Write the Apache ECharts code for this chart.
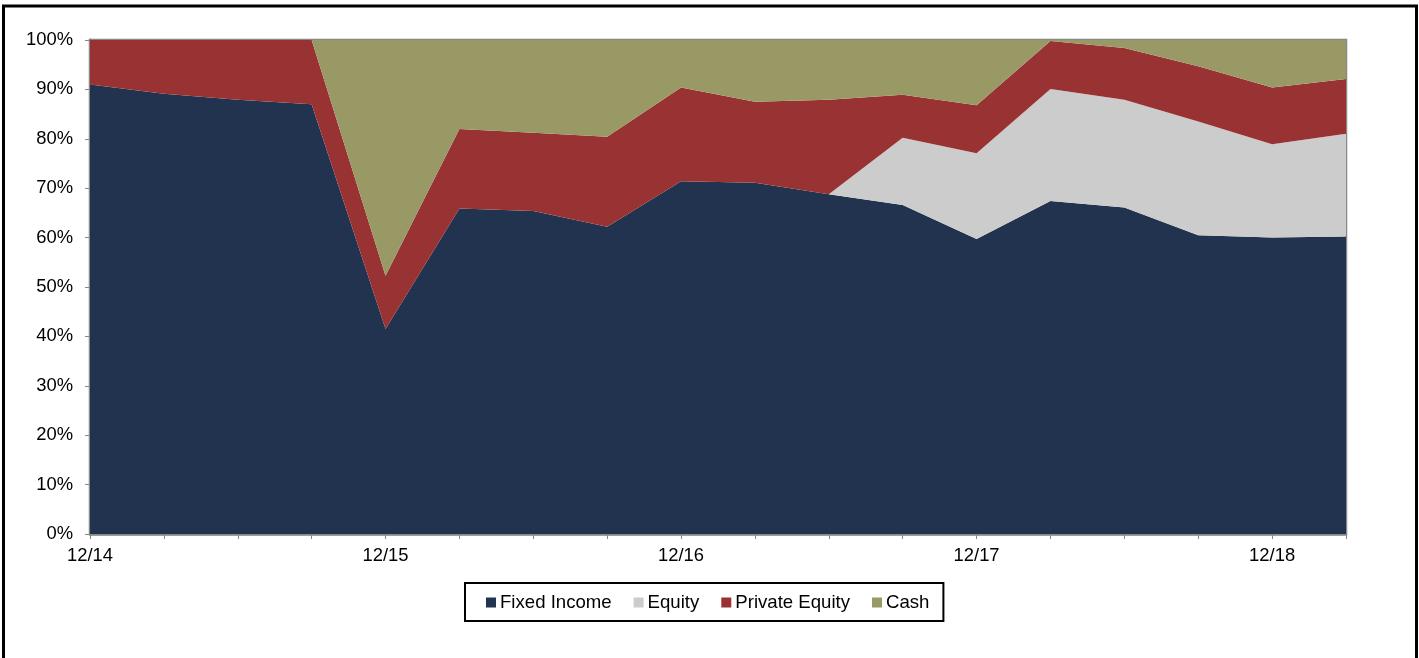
<!DOCTYPE html>
<html>
<head>
<meta charset="utf-8">
<script src="https://cdn.jsdelivr.net/npm/echarts@6/dist/echarts.min.js"></script>
<style>
html,body{margin:0;padding:0;background:#fff;}
#chart{width:1419px;height:658px;}
</style>
</head>
<body>
<div id="chart"></div>
<script>
const categories = ['12/14','3/15','6/15','9/15','12/15','3/16','6/16','9/16','12/16','3/17','6/17','9/17','12/17','3/18','6/18','9/18','12/18','3/19'];
const fixedIncome = [91.0, 89.1, 87.9, 87.0, 41.5, 65.9, 65.4, 62.2, 71.4, 71.1, 68.8, 66.6, 59.7, 67.4, 66.1, 60.5, 60.0, 60.2];
const equity =      [0, 0, 0, 0, 0, 0, 0, 0, 0, 0, 0, 13.6, 17.4, 22.7, 21.8, 23.0, 18.9, 20.8];
const privateEquity=[9.0, 10.9, 12.1, 13.0, 10.8, 16.1, 15.8, 18.2, 19.0, 16.4, 19.1, 8.7, 9.7, 9.7, 10.5, 11.2, 11.5, 11.1];
const cash =        [0, 0, 0, 0, 47.7, 18.0, 18.8, 19.6, 9.6, 12.5, 12.1, 11.1, 13.2, 0.2, 1.6, 5.3, 9.6, 7.9];
const shownLabels = ['12/14','12/15','12/16','12/17','12/18'];
const yTicks = [0,10,20,30,40,50,60,70,80,90,100];

const colors = ['#22334F', '#CCCCCC', '#993333', '#999966'];
const font = '"Liberation Sans", Arial, sans-serif';

function areaSeries(name, data, color) {
  return {
    name: name, type: 'line', stack: 'total', data: data,
    symbol: 'none', lineStyle: { width: 0 }, showSymbol: false,
    areaStyle: { color: color, opacity: 1 }, itemStyle: { color: color },
    emphasis: { disabled: true }
  };
}

const chart = echarts.init(document.getElementById('chart'));
chart.setOption({
  animation: false,
  backgroundColor: '#fff',
  color: colors,
  grid: { left: 90, top: 40, right: 73, bottom: 124, show: true, borderColor: '#888', borderWidth: 2.5, backgroundColor: 'transparent' },
  graphic: [{
    type: 'rect', z: 100, silent: true,
    shape: { x: 3.5, y: 6, width: 1413, height: 700 },
    style: { fill: 'none', stroke: '#000', lineWidth: 3 }
  }],
  legend: {
    left: 465, top: 583,
    data: ['Fixed Income', 'Equity', 'Private Equity', 'Cash'],
    icon: 'rect', itemWidth: 10, itemHeight: 10, itemGap: 22,
    borderColor: '#000', borderWidth: 2, borderRadius: 0,
    padding: [10, 14, 9, 21],
    textStyle: { fontFamily: font, fontSize: 18.6, color: '#000', padding: [0, 0, 0, -1] }
  },
  xAxis: {
    type: 'category', data: categories, boundaryGap: false,
    axisLine: { lineStyle: { color: '#888', width: 2.5 } },
    axisTick: { show: true, interval: 0, length: 5, lineStyle: { color: '#888', width: 1 } },
    axisLabel: {
      interval: 0, margin: 13, color: '#000', fontFamily: font, fontSize: 18.4,
      formatter: v => shownLabels.includes(v) ? v : ''
    },
    splitLine: { show: false }
  },
  yAxis: {
    type: 'value', min: 0, max: 100, interval: 10,
    axisLine: { show: true, lineStyle: { color: '#888', width: 3 } },
    axisTick: { show: true, length: 5, lineStyle: { color: '#888', width: 1 } },
    axisLabel: { margin: 17, color: '#000', fontFamily: font, fontSize: 18.4, formatter: v => yTicks.includes(v) ? v + '%' : '' },
    splitLine: { show: false }
  },
  series: [
    areaSeries('Fixed Income', fixedIncome, colors[0]),
    areaSeries('Equity', equity, colors[1]),
    areaSeries('Private Equity', privateEquity, colors[2]),
    areaSeries('Cash', cash, colors[3])
  ]
});
</script>
</body>
</html>
